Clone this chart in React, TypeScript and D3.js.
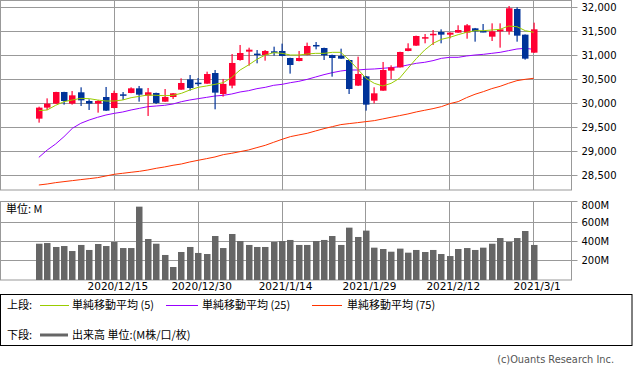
import React from "react";
import * as d3 from "d3";

const dates = [
  "2020-12-02","2020-12-03","2020-12-04","2020-12-07","2020-12-08","2020-12-09","2020-12-10","2020-12-11","2020-12-14","2020-12-15",
  "2020-12-16","2020-12-17","2020-12-18","2020-12-21","2020-12-22","2020-12-23","2020-12-24","2020-12-28","2020-12-29","2020-12-30",
  "2020-12-31","2021-01-04","2021-01-05","2021-01-06","2021-01-07","2021-01-08","2021-01-11","2021-01-12","2021-01-13","2021-01-14",
  "2021-01-15","2021-01-19","2021-01-20","2021-01-21","2021-01-22","2021-01-25","2021-01-26","2021-01-27","2021-01-28","2021-01-29",
  "2021-02-01","2021-02-02","2021-02-03","2021-02-04","2021-02-05","2021-02-08","2021-02-09","2021-02-10","2021-02-11","2021-02-12",
  "2021-02-16","2021-02-17","2021-02-18","2021-02-19","2021-02-22","2021-02-23","2021-02-24","2021-02-25","2021-02-26","2021-03-01",
];

const opens = [
  29680,29910,29993,30235,29993,30229,30048,29993,30131,29902,
  30187,30215,30312,30159,30215,30034,30131,30284,30499,30430,
  30409,30631,30194,30368,30902,31076,31035,31006,31083,31090,
  30944,30881,31006,31215,31152,31006,30986,30902,30368,30562,
  30055,30263,30680,30749,31090,31201,31368,31440,31485,31430,
  31472,31472,31562,31506,31388,31499,31499,31965,31430,31055,
];
const highs = [
  29930,30103,30240,30240,30256,30333,30083,30069,30340,30263,
  30235,30333,30361,30319,30222,30298,30215,30520,30590,30527,
  30659,30694,30507,31027,31215,31159,31110,31110,31180,31243,
  30950,31090,31264,31277,31160,31015,31138,30910,30972,30570,
  30333,30861,30791,31075,31250,31410,31444,31527,31541,31478,
  31625,31652,31570,31652,31666,31666,32027,32000,31435,31680,
];
const lows = [
  29597,29861,29985,29972,29972,29944,29861,29805,29840,29895,
  30069,30210,30034,29736,29986,30030,30090,30280,30263,30361,
  30405,29875,30139,30312,30888,30784,30833,30888,30992,30980,
  30618,30875,31000,31124,30902,30555,30925,30194,30360,29847,
  29999,30260,30507,30745,31085,31195,31250,31215,31250,31353,
  31468,31346,31284,31479,31298,31159,31430,31284,30909,31050,
];
const closes = [
  29910,29993,30235,30048,30166,30062,29993,30048,29847,30215,
  30180,30312,30180,30229,30007,30131,30208,30423,30319,30420,
  30610,30222,30403,30840,31048,31117,31022,31090,31070,30986,
  30798,30944,31194,31203,30999,30944,30930,30298,30611,29972,
  30208,30694,30749,31069,31145,31402,31378,31448,31430,31472,
  31527,31625,31499,31494,31499,31541,31980,31409,30930,31541,
];

const volumes = [
  377,384,343,353,301,364,312,374,353,395,
  332,332,762,426,377,260,135,291,343,281,
  270,457,332,478,405,364,343,343,395,405,
  416,364,364,405,416,457,364,544,447,513,
  336,322,294,326,284,312,291,312,270,249,
  322,332,312,336,377,436,395,436,509,364,
];

const ma5 = [
  29847,29861,29958,30034,30069,30103,30097,30069,30048,30048,
  30069,30117,30145,30173,30166,30159,30166,30208,30277,30333,
  30361,30395,30430,30541,30694,30798,30916,31006,31055,31041,
  31006,31006,31027,31041,31041,31062,31062,30902,30715,30521,
  30416,30361,30416,30521,30729,30930,31110,31249,31333,31374,
  31430,31479,31513,31513,31527,31541,31610,31596,31513,31479,
];
const ma25 = [
  28874,29027,29152,29305,29479,29583,29652,29708,29756,29791,
  29819,29861,29895,29930,29944,29958,29986,30034,30069,30097,
  30124,30152,30166,30194,30236,30263,30305,30333,30375,30395,
  30430,30458,30499,30548,30597,30639,30673,30694,30694,30708,
  30715,30729,30743,30763,30798,30833,30854,30889,30937,30958,
  30958,30986,31006,31020,31041,31062,31097,31131,31145,31124,
];
const ma75 = [
  28298,28319,28347,28368,28389,28410,28430,28451,28486,28521,
  28542,28563,28583,28611,28646,28674,28709,28736,28778,28813,
  28847,28882,28931,28959,28993,29028,29077,29125,29188,29250,
  29306,29341,29375,29424,29472,29514,29556,29577,29597,29618,
  29639,29674,29709,29743,29778,29820,29855,29889,29931,29993,
  30035,30118,30188,30243,30306,30354,30417,30472,30500,30521,
];

const priceTicks = [28500, 29000, 29500, 30000, 30500, 31000, 31500, 32000];
const volumeTicks = [200, 400, 600, 800];
const dateTickLabels = ["2020/12/15", "2020/12/30", "2021/1/14", "2021/1/29", "2021/2/12", "2021/3/1"];

const UP = "#ff0033";
const DOWN = "#003399";
const GRID = "#999999";
const MA_COLORS = ["#99cc00", "#9900ff", "#ff3300"];
const LATIN = "'DejaVu Sans', Verdana, sans-serif";
const CJK = "'Noto Sans CJK JP', 'Noto Sans', sans-serif";

function fmtDate(d: string) {
  const [y, m, dd] = d.split("-");
  return `${y}/${+m}/${+dd}`;
}

export default function App() {
  const W = 633, H = 371;
  const plotRight = 571.5;
  const x = d3.scaleLinear().domain([-4.63, 63.53]).range([0, 571.7]);
  const yP = d3.scaleLinear().domain([28500, 32000]).range([175.3, 7.3]);
  const yV = d3.scaleLinear().domain([0, 800]).range([280, 203]);
  const fmt = d3.format(",");

  const tickIdx = dateTickLabels.map((lab) => dates.findIndex((d) => fmtDate(d) === lab));

  const line = (arr: number[]) =>
    d3.line<number>().x((_, i) => x(i)).y((v) => yP(v))(arr) || "";

  const crisp = (v: number) => Math.round(v) + 0.5;

  return (
    <svg
      width={W}
      height={H}
      viewBox={`0 0 ${W} ${H}`}
      style={{ position: "absolute", left: 0, top: 0, display: "block", background: "#fff" }}
    >
      <rect x={0} y={0} width={W} height={H} fill="#fff" />

      {/* Price panel grid */}
      {priceTicks.map((t) => (
        <g key={"pt" + t}>
          <line x1={0} x2={plotRight + 6} y1={crisp(yP(t) - 0.5)} y2={crisp(yP(t) - 0.5)} stroke={GRID} strokeWidth={1} />
          <text x={581.5} y={yP(t)} dy="0.36em" fontFamily={LATIN} fontSize={10} fill="#000">
            {fmt(t)}
          </text>
        </g>
      ))}
      {tickIdx.map((i) => (
        <g key={"vg" + i}>
          <line x1={crisp(x(i) - 0.5)} x2={crisp(x(i) - 0.5)} y1={0} y2={190} stroke={GRID} strokeWidth={1} />
          <line x1={crisp(x(i) - 0.5)} x2={crisp(x(i) - 0.5)} y1={201.5} y2={280} stroke={GRID} strokeWidth={1} />
          <text x={x(i) + 3.5} y={290} textAnchor="middle" fontFamily={LATIN} fontSize={10.5} fill="#000">
            {dateTickLabels[tickIdx.indexOf(i)]}
          </text>
        </g>
      ))}
      <rect x={0.5} y={0.5} width={plotRight - 0.5} height={189.5} fill="none" stroke={GRID} strokeWidth={1} />

      {/* Moving averages */}
      <path d={line(ma75)} fill="none" stroke={MA_COLORS[2]} strokeWidth={1} />
      <path d={line(ma25)} fill="none" stroke={MA_COLORS[1]} strokeWidth={1} />

      {/* Candles */}
      {dates.map((d, i) => {
        const o = opens[i], c = closes[i], h = highs[i], l = lows[i];
        const col = c >= o ? UP : DOWN;
        const cx = Math.round(x(i));
        const top = yP(Math.max(o, c));
        const bh = Math.max(1.5, Math.abs(yP(o) - yP(c)));
        return (
          <g key={d}>
            <rect x={cx - 0.5} y={yP(h)} width={1.2} height={yP(l) - yP(h)} fill={col} />
            <rect x={cx - 3} y={top} width={6.5} height={bh} fill={col} />
          </g>
        );
      })}

      <path d={line(ma5)} fill="none" stroke={MA_COLORS[0]} strokeWidth={1} />

      {/* Volume panel */}
      {volumeTicks.map((t) => (
        <g key={"vt" + t}>
          {t < 800 && (
            <line x1={0} x2={plotRight} y1={crisp(yV(t) - 0.5)} y2={crisp(yV(t) - 0.5)} stroke={GRID} strokeWidth={1} />
          )}
          <line x1={plotRight} x2={plotRight + 6} y1={t < 800 ? crisp(yV(t) - 0.5) : 201.5} y2={t < 800 ? crisp(yV(t) - 0.5) : 201.5} stroke={GRID} strokeWidth={1} />
          <text x={581.5} y={t < 800 ? yV(t) : 205.5} dy="0.36em" fontFamily={LATIN} fontSize={10} fill="#000">
            {t}M
          </text>
        </g>
      ))}
      <rect x={0.5} y={201.5} width={plotRight - 0.5} height={78.5} fill="none" stroke={GRID} strokeWidth={1} />
      {volumes.map((v, i) => (
        <rect key={"v" + i} x={Math.round(x(i)) - 3} y={yV(v)} width={6.5} height={280 - yV(v)} fill="#666666" />
      ))}
      <text x={6} y={213} fontFamily={CJK} fontSize={11} fill="#000">
        単位: M
      </text>

      {/* Legend */}
      <rect x={0.5} y={294.5} width={631.5} height={51} fill="#fff" stroke="#000" strokeWidth={1} />
      <text x={7} y={309} fontFamily={CJK} fontSize={11} fill="#000">上段:</text>
      <line x1={40} x2={69} y1={305.5} y2={305.5} stroke={MA_COLORS[0]} strokeWidth={1} />
      <text x={72} y={309} fontFamily={CJK} fontSize={11} fill="#000">単純移動平均 (5)</text>
      <line x1={166} x2={198} y1={305.5} y2={305.5} stroke={MA_COLORS[1]} strokeWidth={1} />
      <text x={202} y={309} fontFamily={CJK} fontSize={11} fill="#000">単純移動平均 (25)</text>
      <line x1={312} x2={342} y1={305.5} y2={305.5} stroke={MA_COLORS[2]} strokeWidth={1} />
      <text x={347} y={309} fontFamily={CJK} fontSize={11} fill="#000">単純移動平均 (75)</text>

      <text x={7} y={339} fontFamily={CJK} fontSize={11} fill="#000">下段:</text>
      <line x1={40} x2={68} y1={335} y2={335} stroke="#666666" strokeWidth={3} />
      <text x={72} y={339} fontFamily={CJK} fontSize={11} fill="#000">出来高 単位:(M株/口/枚)</text>

      <text x={614} y={363} textAnchor="end" fontFamily={LATIN} fontSize={9.8} fill="#555">
        (c)Ouants Research Inc.
      </text>
    </svg>
  );
}
